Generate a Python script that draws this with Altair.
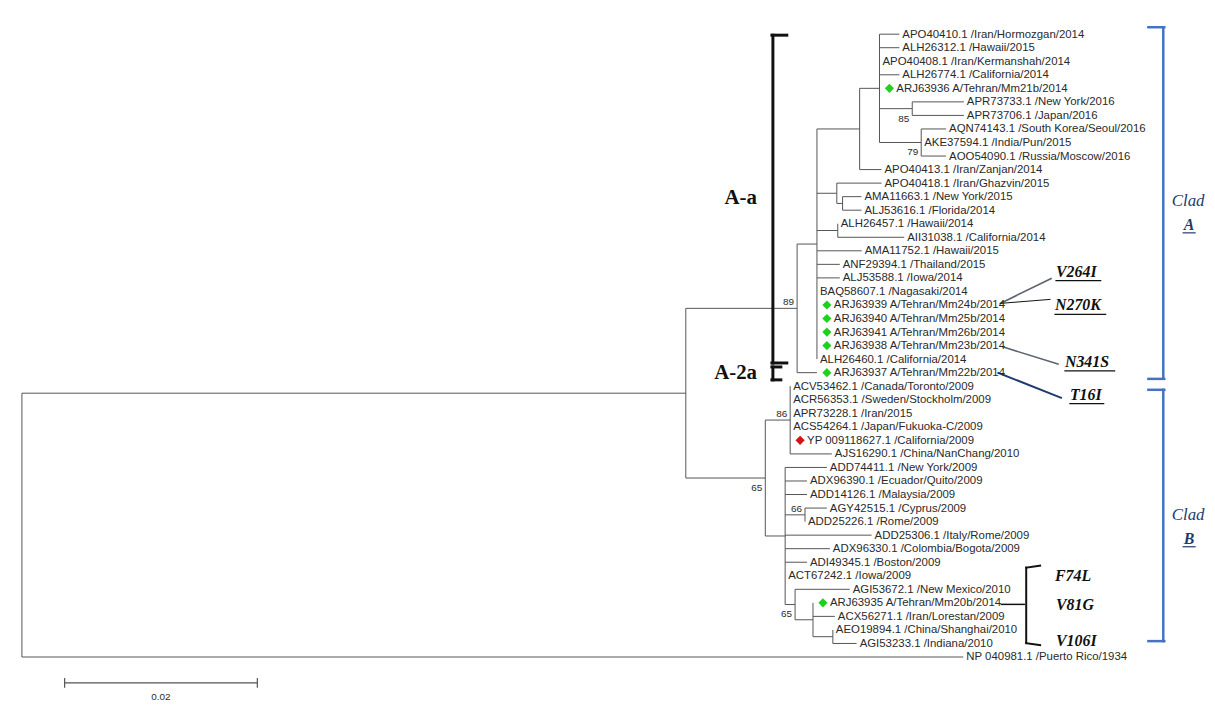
import altair as alt
import pandas as pd

# ---------------- data ----------------
LABELS = [
    "APO40410.1 /Iran/Hormozgan/2014", "ALH26312.1 /Hawaii/2015",
    "APO40408.1 /Iran/Kermanshah/2014", "ALH26774.1 /California/2014",
    "ARJ63936 A/Tehran/Mm21b/2014", "APR73733.1 /New York/2016",
    "APR73706.1 /Japan/2016", "AQN74143.1 /South Korea/Seoul/2016",
    "AKE37594.1 /India/Pun/2015", "AOO54090.1 /Russia/Moscow/2016",
    "APO40413.1 /Iran/Zanjan/2014", "APO40418.1 /Iran/Ghazvin/2015",
    "AMA11663.1 /New York/2015", "ALJ53616.1 /Florida/2014",
    "ALH26457.1 /Hawaii/2014", "AII31038.1 /California/2014",
    "AMA11752.1 /Hawaii/2015", "ANF29394.1 /Thailand/2015",
    "ALJ53588.1 /Iowa/2014", "BAQ58607.1 /Nagasaki/2014",
    "ARJ63939 A/Tehran/Mm24b/2014", "ARJ63940 A/Tehran/Mm25b/2014",
    "ARJ63941 A/Tehran/Mm26b/2014", "ARJ63938 A/Tehran/Mm23b/2014",
    "ALH26460.1 /California/2014", "ARJ63937 A/Tehran/Mm22b/2014",
    "ACV53462.1 /Canada/Toronto/2009", "ACR56353.1 /Sweden/Stockholm/2009",
    "APR73228.1 /Iran/2015", "ACS54264.1 /Japan/Fukuoka-C/2009",
    "YP 009118627.1 /California/2009", "AJS16290.1 /China/NanChang/2010",
    "ADD74411.1 /New York/2009", "ADX96390.1 /Ecuador/Quito/2009",
    "ADD14126.1 /Malaysia/2009", "AGY42515.1 /Cyprus/2009",
    "ADD25226.1 /Rome/2009", "ADD25306.1 /Italy/Rome/2009",
    "ADX96330.1 /Colombia/Bogota/2009", "ADI49345.1 /Boston/2009",
    "ACT67242.1 /Iowa/2009", "AGI53672.1 /New Mexico/2010",
    "ARJ63935 A/Tehran/Mm20b/2014", "ACX56271.1 /Iran/Lorestan/2009",
    "AEO19894.1 /China/Shanghai/2010", "AGI53233.1 /Indiana/2010",
    "NP 040981.1 /Puerto Rico/1934",
]
GREEN_MARKED = [4, 20, 21, 22, 23, 25, 42]
RED_MARKED = [30]

# tree topology with branch lengths (substitutions/site) and bootstrap values
NEWICK = (
    "((("
    "(((L0:0.00206,L1:0.00206,L2:0,L3:0.00206,L4:0,"
    "(L5:0.00536,L6:0.00536)85:0.0034,"
    "(L7:0.00258,L8:0,L9:0.00258)79:0.00433):0.00206,"
    "L10:0.00227):0.00443,"
    "(L11:0.00464,(L12:0.00196,L13:0.00196):0.0006):0.00206,"
    "(L14:0,L15:0.0069):0.00216,"
    "L16:0.00464,L17:0.00237,L18:0.00237,L19:0,L20:0,L21:0,L22:0,L23:0,L24:0):0.00206,"
    "L25:0.00206)89:0.01155,"
    "((L26:0,L27:0,L28:0,L29:0,L30:0,L31:0.00433)86:0.00258,"
    "(L32:0.00433,L33:0.00227,L34:0.00227,(L35:0.00227,L36:0)66:0.00206,"
    "L37:0.00897,L38:0.00464,L39:0.00227,L40:0,"
    "(L41:0.00567,(L42:0,L43:0.00227,(L44:0,L45:0.00247):0.00206):0.00186)65:0.00103"
    "):0.00206)65:0.00825"
    "):0.0689,"
    "L46:0.0977)"
)
# bootstrap label placement, in preorder of supported nodes: 89, 85, 79, 65, 86, 66, 65
BOOT_BELOW = [False, True, True, True, False, False, True]

SCALE_BAR = 0.02

# ---------------- layout constants ----------------
W, H = 1207, 705
X0_PX, PX_PER_UNIT = 22.0, 9700.0
ROW0_PX, ROW_PX = 32.0, 13.63


def ux(px):
    return (px - X0_PX) / PX_PER_UNIT


def ry(py):
    return (py - ROW0_PX) / ROW_PX


def parse(s):
    pos = 0

    def node():
        nonlocal pos
        n = {"children": [], "name": None, "support": None, "len": 0.0}
        if s[pos] == "(":
            pos += 1
            while True:
                n["children"].append(node())
                if s[pos] == ",":
                    pos += 1
                    continue
                pos += 1
                break
            start = pos
            while pos < len(s) and s[pos] not in ":,)":
                pos += 1
            if s[start:pos]:
                n["support"] = s[start:pos]
        else:
            start = pos
            while s[pos] not in ":,)":
                pos += 1
            n["name"] = s[start:pos]
        if pos < len(s) and s[pos] == ":":
            pos += 1
            start = pos
            while s[pos] not in ",)":
                pos += 1
            n["len"] = float(s[start:pos])
        return n

    return node()


tree = parse(NEWICK)


def layout(n, x0):
    n["x"] = x0 + n["len"]
    if n["children"]:
        for c in n["children"]:
            layout(c, n["x"])
        n["y"] = (n["children"][0]["y"] + n["children"][-1]["y"]) / 2
    else:
        n["y"] = int(n["name"][1:])


layout(tree, 0.0)

branches, leaves, boots = [], [], []


def walk(n):
    if n["children"]:
        branches.append(dict(x=n["x"], x2=n["x"], y=n["children"][0]["y"], y2=n["children"][-1]["y"]))
        for c in n["children"]:
            branches.append(dict(x=n["x"], x2=c["x"], y=c["y"], y2=c["y"]))
        if n["support"]:
            boots.append(dict(x=n["x"], y=n["y"], t=n["support"]))
        for c in n["children"]:
            walk(c)
    else:
        i = int(n["name"][1:])
        mk = "green" if i in GREEN_MARKED else ("red" if i in RED_MARKED else "")
        leaves.append(dict(x=n["x"], y=i, label=LABELS[i], mk=mk))


walk(tree)
for b, below in zip(boots, BOOT_BELOW):
    b["below"] = below

br = pd.DataFrame(branches)
lv = pd.DataFrame(leaves)
bt = pd.DataFrame(boots)
lv["xd"] = lv["x"] + 10 / PX_PER_UNIT

xs = alt.Scale(domain=[ux(8), ux(8 + W)], nice=False, zero=False)
ys = alt.Scale(domain=[ry(8), ry(8 + H)], reverse=True, nice=False, zero=False)
X = lambda f: alt.X(f, type="quantitative", scale=xs, axis=None)
Y = lambda f: alt.Y(f, type="quantitative", scale=ys, axis=None)

TREE_FONT = "Liberation Sans"
SERIF = "Liberation Serif"
LINE = "#555555"
TXT = "#2a2a2a"
FS = 11.5

base = alt.Chart(br)
branch_layer = base.mark_rule(color=LINE, strokeWidth=1).encode(
    x=X("x"), x2="x2", y=Y("y"), y2="y2")

plain = alt.Chart(lv[lv.mk == ""]).mark_text(
    align="left", baseline="middle", dx=3, dy=0.5, font=TREE_FONT, fontSize=FS, color=TXT
).encode(x=X("x"), y=Y("y"), text="label:N")
marked_text = alt.Chart(lv[lv.mk != ""]).mark_text(
    align="left", baseline="middle", dx=17, dy=0.5, font=TREE_FONT, fontSize=FS, color=TXT
).encode(x=X("x"), y=Y("y"), text="label:N")
diamonds = alt.Chart(lv[lv.mk != ""]).mark_point(
    shape="diamond", filled=True, size=85, opacity=1
).encode(
    x=X("xd"), y=Y("y"),
    color=alt.Color("mk:N", scale=alt.Scale(domain=["green", "red"], range=["#1fd11f", "#d41414"]), legend=None),
)
boot_above = alt.Chart(bt[~bt.below]).mark_text(
    align="right", baseline="bottom", dx=-3, dy=-1, font=TREE_FONT, fontSize=10, color=TXT
).encode(x=X("x"), y=Y("y"), text="t:N")
boot_below = alt.Chart(bt[bt.below]).mark_text(
    align="right", baseline="top", dx=-3, dy=5, font=TREE_FONT, fontSize=10, color=TXT
).encode(x=X("x"), y=Y("y"), text="t:N")

# scale bar
sb = pd.DataFrame([dict(x=ux(65), x2=ux(65) + SCALE_BAR, y=ry(685), y2=ry(685))])
sb_ticks = pd.DataFrame([
    dict(x=ux(65), y=ry(680), y2=ry(690)),
    dict(x=ux(65) + SCALE_BAR, y=ry(680), y2=ry(690)),
])
sb_line = alt.Chart(sb).mark_rule(color=LINE, strokeWidth=1.2).encode(x=X("x"), x2="x2", y=Y("y"), y2="y2")
sb_tick = alt.Chart(sb_ticks).mark_rule(color=LINE, strokeWidth=1.2).encode(x=X("x"), y=Y("y"), y2="y2")
sb_text = alt.Chart(pd.DataFrame([dict(x=ux(65) + SCALE_BAR / 2, y=ry(699), t=f"{SCALE_BAR:.2f}")])).mark_text(
    align="center", baseline="middle", font=TREE_FONT, fontSize=10, color=TXT
).encode(x=X("x"), y=Y("y"), text="t:N")

# ---------------- annotations (page-pixel estimates) ----------------
BLACK, BLUE, NAVY, GREY = "#111111", "#4472c4", "#1f3a6e", "#5c6470"
seg = [
    # A-a bracket
    (778, 33, 778, 363, BLACK, 3), (777, 33, 792, 33, BLACK, 3), (777, 363, 792, 363, BLACK, 3),
    # A-2a bracket
    (778, 367, 778, 380, BLACK, 3), (777, 367, 786, 367, BLACK, 3), (777, 380, 786, 380, BLACK, 3),
    # clade A / B brackets
    (1171, 25, 1171, 379, BLUE, 2.5), (1156, 25, 1172, 25, BLUE, 2.5), (1156, 379, 1172, 379, BLUE, 2.5),
    (1171, 390, 1171, 643, BLUE, 2.5), (1156, 390, 1172, 390, BLUE, 2.5), (1156, 643, 1172, 643, BLUE, 2.5),
    # mutation pointers
    (1007, 303, 1058, 278, GREY, 1.6), (1007, 303, 1057, 299, BLACK, 1),
    (1010, 347, 1065, 364, GREY, 1.6), (1005, 373, 1068, 398, NAVY, 2),
    # underlines
    (1063, 280, 1108, 280, BLACK, 1.2), (1062, 314, 1113, 314, BLACK, 1.2),
    (1072, 371, 1122, 371, BLACK, 1.2), (1077, 404, 1111, 404, BLACK, 1.2),
    (1191, 232, 1203, 232, NAVY, 1.2), (1191, 548, 1203, 548, NAVY, 1.2),
    # brace for clade B mutations
    (1008, 606, 1031, 606, BLACK, 1.5), (1033, 569, 1033, 645, BLACK, 2),
    (1033, 569, 1047, 567, BLACK, 2), (1033, 645, 1047, 647, BLACK, 2),
]
ann = pd.DataFrame([dict(x=ux(a), y=ry(b), x2=ux(c), y2=ry(d), c=col, w=w) for a, b, c, d, col, w in seg])
ann_layer = alt.Chart(ann).mark_rule(strokeCap="square").encode(
    x=X("x"), x2="x2", y=Y("y"), y2="y2",
    color=alt.Color("c:N", scale=None), strokeWidth=alt.StrokeWidth("w:Q", scale=None))


def txt(items, **kw):
    df = pd.DataFrame([dict(x=ux(a), y=ry(b), t=t) for a, b, t in items])
    return alt.Chart(df).mark_text(baseline="middle", **kw).encode(x=X("x"), y=Y("y"), text="t:N")


subclade = txt([(762, 197, "A-a"), (762, 373, "A-2a")],
               align="right", font=SERIF, fontSize=21, fontWeight="bold", color=BLACK)
muts_a = txt([(1063, 271, "V264I"), (1062, 305, "N270K"), (1072, 362, "N341S"), (1077, 395, "T16I")],
             align="left", font=SERIF, fontSize=16, fontWeight="bold", fontStyle="italic", color=BLACK)
muts_b = txt([(1062, 577, "F74L"), (1063, 607, "V81G"), (1063, 643, "V106I")],
             align="left", font=SERIF, fontSize=16, fontWeight="bold", fontStyle="italic", color=BLACK)
clad = txt([(1196, 200, "Clad"), (1196, 516, "Clad")],
           align="center", font=SERIF, fontSize=17, fontStyle="italic", color=NAVY)
clad_l = txt([(1197, 224, "A"), (1197, 540, "B")],
             align="center", font=SERIF, fontSize=16, fontWeight="bold", fontStyle="italic", color=NAVY)

chart = alt.layer(
    branch_layer, ann_layer, plain, marked_text, diamonds, boot_above, boot_below,
    sb_line, sb_tick, sb_text, subclade, muts_a, muts_b, clad, clad_l,
).properties(
    width=W, height=H, autosize=alt.AutoSizeParams(type="none"), padding=0, background="white"
).configure_view(stroke=None)

chart.save("out.html", embed_options={"renderer": "svg", "actions": False})
